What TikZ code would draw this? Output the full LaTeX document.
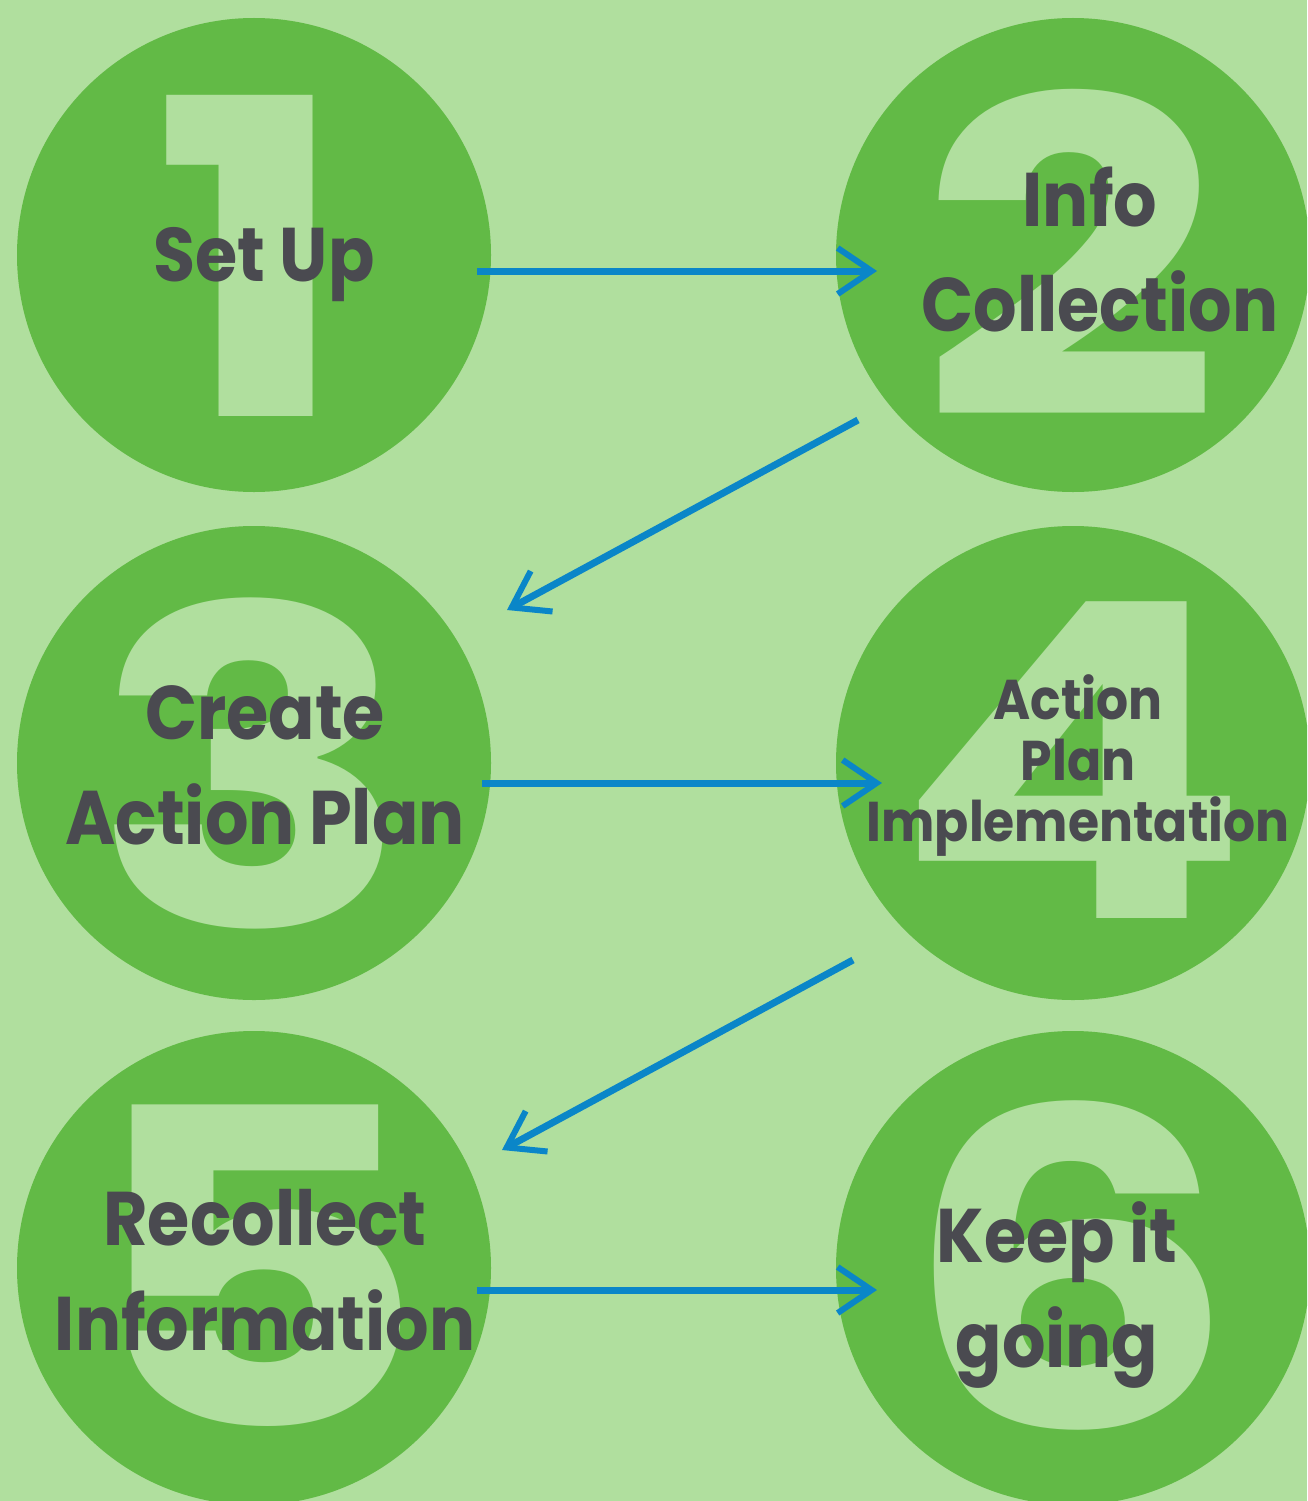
\documentclass[tikz,border=0pt]{standalone}
\usepackage{fontspec}
\usetikzlibrary{arrows.meta}
\newfontfamily\labfont[FakeStretch=0.9]{Poppins}
\newfontfamily\digfont[FakeStretch=1.2]{Poppins}
\definecolor{bg}{HTML}{B0DF9E}
\definecolor{disc}{HTML}{62BA46}
\definecolor{txt}{HTML}{4A4A50}
\definecolor{arr}{HTML}{0A86C8}
\begin{document}
\begin{tikzpicture}[x=1pt,y=-1pt,
  disc/.style={circle,fill=disc,minimum size=474pt,inner sep=0pt},
  digit/.style={text=bg,font=\digfont\bfseries\fontsize{440}{440}\selectfont,inner sep=0pt},
  lab/.style={text=txt,align=center,inner sep=0pt,font=\labfont\bfseries\fontsize{76}{105}\selectfont},
  labsmall/.style={text=txt,align=center,inner sep=0pt,font=\labfont\bfseries\fontsize{56}{61}\selectfont},
  flow/.style={draw=arr,line width=7pt,-{Straight Barb[length=34pt,width=46pt,line width=6pt]}}]
\fill[bg] (0,0) rectangle (1307,1501);
\useasboundingbox (0,0) rectangle (1307,1501);
\begin{scope}
\clip (0,0) rectangle (1307,1501);
\node[disc] (c1) at (254,255) {};
\node[disc] (c2) at (1073,255) {};
\node[disc] (c3) at (254,763) {};
\node[disc] (c4) at (1073,763) {};
\node[disc] (c5) at (254,1268) {};
\node[disc] (c6) at (1073,1268) {};
\node[digit] (d1) at (252,256) {1};
\node[digit] (d2) at (1070,253) {2};
\node[digit] (d3) at (252,763) {3};
\node[digit] (d4) at (1072,760) {4};
\node[digit] (d5) at (255,1266) {5};
\node[digit] (d6) at (1070,1265) {6};
\end{scope}
\node[lab] (t1) at (264,265) {Set Up};
\node[lab] (t2) at (1100,250) {\hspace*{-20pt}Info\\Collection};
\node[lab] (t3) at (265,765) {Create\\Action Plan};
\node[labsmall] (t4) at (1078,766) {Action\\Plan\\Implementation};
\node[lab] (t5) at (265,1270) {Recollect\\Information};
\node[lab] (t6) at (1057,1295) {Keep it\\going};
\coordinate (a1s) at (477,271); \coordinate (a1e) at (877,271);
\coordinate (a2s) at (858,420); \coordinate (a2e) at (507,610);
\coordinate (a3s) at (482,783); \coordinate (a3e) at (882,783);
\coordinate (a4s) at (853,960); \coordinate (a4e) at (502,1150);
\coordinate (a5s) at (477,1290); \coordinate (a5e) at (877,1290);
\draw[flow] (a1s) -- (a1e);
\draw[flow] (a2s) -- (a2e);
\draw[flow] (a3s) -- (a3e);
\draw[flow] (a4s) -- (a4e);
\draw[flow] (a5s) -- (a5e);
\end{tikzpicture}
\end{document}
